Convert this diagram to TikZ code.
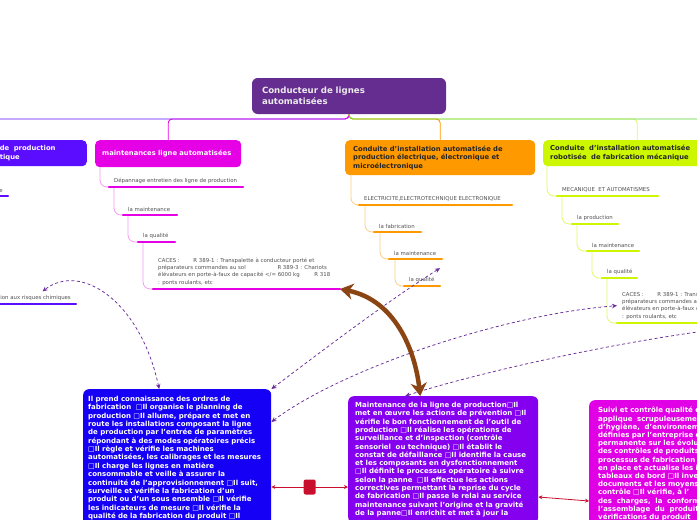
\documentclass[tikz,border=0pt]{standalone}
\usepackage{fontspec}
\setmainfont{DejaVu Sans}
\usepackage{xcolor}
\usetikzlibrary{arrows.meta,calc,positioning}

\definecolor{mmpurple}{HTML}{662D91}
\definecolor{mmblue}{HTML}{5A0DFF}
\definecolor{mmmag}{HTML}{E600E6}
\definecolor{mmorange}{HTML}{FF9900}
\definecolor{mmlime}{HTML}{CDF700}
\definecolor{mmgreen}{HTML}{5CD62E}
\definecolor{mmdeep}{HTML}{1500F5}
\definecolor{mmviolet}{HTML}{8600F0}
\definecolor{mmpink}{HTML}{E100E6}
\definecolor{mmrel}{HTML}{6A2D99}
\definecolor{mmbrown}{HTML}{8B4513}
\definecolor{mmred}{HTML}{C8102E}

\begin{document}
\begin{tikzpicture}[
  x=1pt, y=-1pt,
  central/.style={fill=mmpurple, rounded corners=2mm, minimum width=194pt,
    minimum height=36pt, text width=174pt, inner xsep=10pt, align=left,
    text=white!92!black, font=\fontsize{8.6}{11}\selectfont\bfseries},
  branch/.style={anchor=north west, rounded corners=1.6mm, inner xsep=7pt,
    align=left, font=\fontsize{6.8}{8.6}\selectfont\bfseries},
  leaf/.style={anchor=south west, inner xsep=5pt, inner ysep=3.5pt, align=left,
    text=black!68, font=\fontsize{5.4}{7.3}\selectfont},
  card/.style={anchor=north west, rounded corners=2mm, align=left, text=white,
    font=\fontsize{7}{8.35}\selectfont\bfseries},
  bar/.style={line width=2.4pt, line cap=round},
  trunk/.style={line width=.9pt, rounded corners=4pt},
  twig/.style={line width=.8pt, rounded corners=7pt},
  rel/.style={draw=mmrel, line width=.75pt, dash pattern=on 3pt off 2.5pt,
    arrows={Stealth[length=5pt,width=4.5pt]-Stealth[length=5pt,width=4.5pt]}},
  brownlink/.style={draw=mmbrown, line width=4.5pt,
    arrows={Stealth[length=13pt,width=16pt,inset=4pt]-Stealth[length=13pt,width=16pt,inset=4pt]}},
  redlink/.style={draw=mmred, line width=.8pt,
    arrows={Stealth[length=4pt,width=4pt]-Stealth[length=4pt,width=4pt]}},
  knob/.style={fill=mmred, rounded corners=2pt, minimum width=12pt,
    minimum height=15pt, inner sep=0pt}
]
\useasboundingbox (0,0) rectangle (697,520);
\clip (0,0) rectangle (697,520);
\fill[white] (0,0) rectangle (697,520);

% Central topic
\node[central] (central) at (349,96) {Conducteur de lignes\\automatisées};
\coordinate (rail) at (349,119);
\coordinate (westrail) at (-10,119);
\coordinate (eastrail) at (710,119);

% Main branches
\node[branch, fill=mmblue, text=white, text width=81pt, minimum height=26pt,
  anchor=north east, inner xsep=6pt] (chim) at (87,140) {de\ \ production\\tique};
\node[branch, fill=mmmag, text=white, text width=132pt, minimum height=27pt]
  (mag) at (95,140) {maintenances ligne automatisées};
\node[branch, fill=mmorange, text=black!85, text width=174pt, minimum height=35pt,
  inner xsep=8pt] (orange) at (345,140)
  {\makebox[159pt][s]{Conduite d'installation automatisée de}\\
   \makebox[159pt][s]{production électrique, électronique et}\\
   microélectronique};
\node[branch, fill=mmlime, text=black!85, text width=174pt, minimum height=26pt]
  (mech) at (543,140)
  {Conduite\ \ d'installation automatisée\\robotisée\ \ de fabrication mécanique};

\draw[trunk, mmblue] (central.south) -- (rail) -- (westrail);
\draw[trunk, mmmag] (central.south) -- (rail) -| (mag.north);
\draw[trunk, mmlime!60] (central.south) -- (rail) -| (mech.north);
\draw[trunk, mmorange] (central.south) -- (rail) -| (orange.north);
\draw[trunk, mmgreen] (central.south) -- (rail) -- (eastrail);

% Left branch (cut)
\node[leaf, anchor=south east] (b1) at (8,196) {e};
\node[leaf, anchor=south east] (risk) at (76,304) {ion aux risques chimiques};
\draw[bar, mmblue] (b1.south east) -- ++(-30,0);
\draw[bar, mmblue] (risk.south east) -- ++(-90,0);

% Maintenance branch
\node[leaf] (m1) at (109,187) {Dépannage entretien des ligne de production};
\node[leaf] (m2) at (123,215) {la maintenance};
\node[leaf] (m3) at (138,242) {la qualité};
\node[leaf] (mcaces) at (153,289)
  {CACES :\hspace{12pt} R 389-1 : Transpalette à conducteur porté et\\
   préparateurs commandes au sol\hspace{30pt} R 389-3 : Chariots\\
   élévateurs en porte-à-faux de capacité </= 6000 kg\hspace{13pt} R 318\\
   : ponts roulants, etc};
\draw[twig, mmmag!40] ([xshift=5pt]mag.south west) |- (m1.south west);
\draw[twig, mmmag!40] ([xshift=5pt]m1.south west) |- (m2.south west);
\draw[twig, mmmag!40] ([xshift=5pt]m2.south west) |- (m3.south west);
\draw[twig, mmmag!40] ([xshift=5pt]m3.south west) |- (mcaces.south west);
\draw[bar, mmmag] (m1.south west) -- ++(134,0);
\draw[bar, mmmag] (m2.south west) -- ++(54,0);
\draw[bar, mmmag] (m3.south west) -- ++(37,0);
\draw[bar, mmmag] (mcaces.south west) -- ++(187,0);

% Electrical branch
\node[leaf] (o1) at (359,205) {ELECTRICITE,ELECTROTECHNIQUE ELECTRONIQUE};
\node[leaf] (o2) at (374,232) {la fabrication};
\node[leaf] (o3) at (389,259) {la maintenance};
\node[leaf] (o4) at (404,286) {la qualité};
\draw[twig, mmorange!50] ([xshift=6pt]orange.south west) |- (o1.south west);
\draw[twig, mmorange!50] ([xshift=6pt]o1.south west) |- (o2.south west);
\draw[twig, mmorange!50] ([xshift=6pt]o2.south west) |- (o3.south west);
\draw[twig, mmorange!50] ([xshift=6pt]o3.south west) |- (o4.south west);
\draw[bar, mmorange] (o1.south west) -- ++(153,0);
\draw[bar, mmorange] (o2.south west) -- ++(47,0);
\draw[bar, mmorange] (o3.south west) -- ++(53,0);
\draw[bar, mmorange] (o4.south west) -- ++(36,0);

% Mechanical branch
\node[leaf] (g1) at (557,196) {MECANIQUE\ \ ET AUTOMATISMES};
\node[leaf] (g2) at (572,224) {la production};
\node[leaf] (g3) at (587,251) {la maintenance};
\node[leaf] (g4) at (602,278) {la qualité};
\node[leaf] (gcaces) at (617,323)
  {CACES :\hspace{12pt} R 389-1 : Transpalette à conducteur porté et\\
   préparateurs commandes au sol\hspace{30pt} R 389-3 : Chariots\\
   élévateurs en porte-à-faux de capacité </= 6000 kg\hspace{13pt} R 318\\
   : ponts roulants, etc};
\draw[twig, mmlime!60] ([xshift=4pt]mech.south west) |- (g1.south west);
\draw[twig, mmlime!60] ([xshift=5pt]g1.south west) |- (g2.south west);
\draw[twig, mmlime!60] ([xshift=5pt]g2.south west) |- (g3.south west);
\draw[twig, mmlime!60] ([xshift=5pt]g3.south west) |- (g4.south west);
\draw[twig, mmlime!60] ([xshift=5pt]g4.south west) |- (gcaces.south west);
\draw[bar, mmlime] (g1.south west) -- ++(101,0);
\draw[bar, mmlime] (g2.south west) -- ++(46,0);
\draw[bar, mmlime] (g3.south west) -- ++(52,0);
\draw[bar, mmlime] (g4.south west) -- ++(35,0);
\draw[bar, mmlime] (gcaces.south west) -- ++(100,0);

% Floating cards
\node[card, fill=mmdeep, text width=178pt, inner xsep=5pt, inner ysep=7pt]
  (bluebox) at (83,389)
  {Il prend connaissance des ordres de\\
   fabrication\ \ □Il organise le planning de\\
   \makebox[176pt][s]{production □Il allume, prépare et met en}\\
   \makebox[176pt][s]{route les installations composant la ligne}\\
   de production par l'entrée de paramètres\\
   répondant à des modes opératoires précis\\
   □Il règle et vérifie les machines\\
   automatisées, les calibrages et les mesures\\
   □Il charge les lignes en matière\\
   consommable et veille à assurer la\\
   continuité de l'approvisionnement □Il suit,\\
   surveille et vérifie la fabrication d'un\\
   \makebox[176pt][s]{produit ou d'un sous ensemble □Il vérifie}\\
   \makebox[176pt][s]{les indicateurs de mesure □Il vérifie la}\\
   qualité de la fabrication du produit □Il};
\node[card, fill=mmviolet, text width=176pt, inner xsep=7pt, inner ysep=6pt,
  font=\fontsize{7}{8.3}\selectfont\bfseries] (purplebox) at (348,396)
  {Maintenance de la ligne de production□Il\\
   \makebox[176pt][s]{met en œuvre les actions de prévention □Il}\\
   \makebox[176pt][s]{vérifie le bon fonctionnement de l'outil de}\\
   \makebox[176pt][s]{production □Il réalise les opérations de}\\
   \makebox[168pt][s]{surveillance et d'inspection (contrôle}\\
   sensoriel\ \ ou technique) □Il établit le\\
   \makebox[176pt][s]{constat de défaillance □Il identifie la cause}\\
   et les composants en dysfonctionnement\\
   \makebox[176pt][s]{□Il définit le processus opératoire à suivre}\\
   selon la panne\ \ □Il effectue les actions\\
   \makebox[176pt][s]{correctives permettant la reprise du cycle}\\
   \makebox[176pt][s]{de fabrication □Il passe le relai au service}\\
   \makebox[176pt][s]{maintenance suivant l'origine et la gravité}\\
   de la panne□Il enrichit et met à jour la};
\node[card, fill=mmpink, text width=150pt, inner xsep=9pt, inner ysep=7pt,
  font=\fontsize{7}{8.2}\selectfont\bfseries] (magbox) at (589,400)
  {Suivi et contrôle qualité d\\
   applique\ \ scrupuleusemen\\
   d'hygiène,\ \ d'environnem\\
   définies par l'entreprise e\\
   permanente sur les évolu\\
   des contrôles de produits\\
   processus de fabrication\\
   en place et actualise les i\\
   tableaux de bord □Il inve\\
   documents et les moyens\\
   contrôle □Il vérifie, à l'\\
   des\ \ charges,\ \ la\ \ conform\\
   l'assemblage\ \ du\ \ produit\\
   vérifications du produit};

% Relations
\coordinate (offright) at (712,330);
\draw[rel] ([xshift=-18pt]bluebox.north) .. controls (140,300) and (80,262) .. ([xshift=7pt]risk.north);
\draw[rel] (bluebox.north east) .. controls (330,345) and (385,303) .. ([xshift=36pt,yshift=5pt]o4.north west);
\draw[rel] ([yshift=-33pt]bluebox.north east) .. controls (340,370) and (500,315) .. (gcaces.west);
\draw[rel] ([xshift=-38pt]purplebox.north) .. controls (470,375) and (600,345) .. (offright);
\draw[redlink] ([yshift=-98pt]bluebox.north east) -- node[knob] (knob) {} ([yshift=-91pt]purplebox.north west);
\draw[redlink] ([yshift=-101pt]purplebox.north east) -- ([yshift=-101pt]magbox.north west);
\draw[brownlink] ([xshift=187pt]mcaces.south west) .. controls (395,300) and (415,350) .. ([xshift=-23pt]purplebox.north);
\end{tikzpicture}
\end{document}
